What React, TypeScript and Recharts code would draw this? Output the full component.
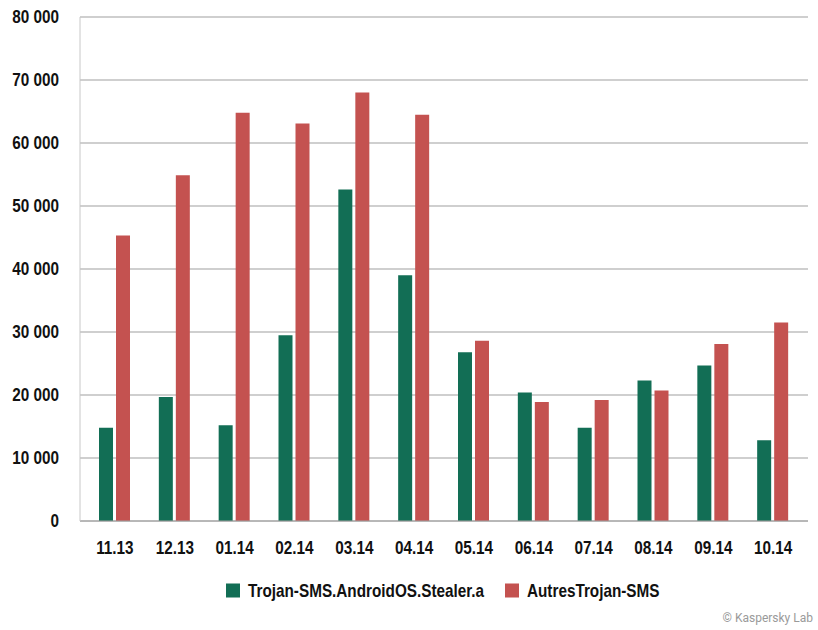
import React from "react";
import {
  BarChart,
  Bar,
  XAxis,
  YAxis,
  CartesianGrid,
  Legend,
} from "recharts";

const months = [
  "11.13",
  "12.13",
  "01.14",
  "02.14",
  "03.14",
  "04.14",
  "05.14",
  "06.14",
  "07.14",
  "08.14",
  "09.14",
  "10.14",
];
const stealer = [
  14800, 19700, 15200, 29500, 52600, 39000, 26800, 20400, 14800, 22300, 24700,
  12800,
];
const autres = [
  45300, 54900, 64800, 63100, 68000, 64500, 28600, 18900, 19200, 20700, 28100,
  31500,
];
const yTicks = [0, 10000, 20000, 30000, 40000, 50000, 60000, 70000, 80000];

// s1 / s2 keep the legend in the original order
const data = months.map((month, i) => ({
  month,
  s1: stealer[i],
  s2: autres[i],
}));

const font = "'Liberation Sans', Arial, sans-serif";
// no condensed bold font installed, so squeeze the glyphs horizontally
const squeeze = 0.85;

const formatThousands = (v: number) =>
  v === 0 ? "0" : `${Math.floor(v / 1000)} ${String(v % 1000).padStart(3, "0")}`;

const XTick = (props: any) => {
  const { x, y, payload } = props;
  return (
    <g transform={`translate(${x},${y}) scale(${squeeze},1)`}>
      <text
        textAnchor="middle"
        dy="0.72em"
        fill="#111"
        fontSize={18}
        fontWeight={700}
        fontFamily={font}
      >
        {payload.value}
      </text>
    </g>
  );
};

const YTick = (props: any) => {
  const { x, y, payload } = props;
  return (
    <g transform={`translate(${x},${y}) scale(${squeeze},1)`}>
      <text
        textAnchor="end"
        dy="0.36em"
        fill="#111"
        fontSize={18}
        fontWeight={700}
        fontFamily={font}
      >
        {formatThousands(payload.value)}
      </text>
    </g>
  );
};

const legendX = [0, 279];

const LegendContent = (props: any) => {
  const { payload = [] } = props;
  return (
    <svg width={440} height={26} style={{ display: "block" }}>
      {payload.map((entry: any, i: number) => (
        <g key={entry.value} transform={`translate(${legendX[i]},4)`}>
          <rect x={0} y={0.5} width={14} height={14} fill={entry.color} />
          <text
            transform={`translate(22,14) scale(${squeeze},1)`}
            fill="#111"
            fontSize={18}
            fontWeight={700}
            fontFamily={font}
          >
            {entry.value}
          </text>
        </g>
      ))}
    </svg>
  );
};

const App = () => {
  return (
    <div
      style={{
        position: "absolute",
        left: 0,
        top: 0,
        width: 818,
        height: 630,
        background: "#fff",
      }}
    >
      <BarChart
        width={818}
        height={630}
        data={data}
        margin={{ top: 17, right: 10, left: 0, bottom: 43 }}
        barSize={14}
        barGap={3}
      >
        <CartesianGrid vertical={false} stroke="#a0a0a0" strokeWidth={1.2} />
        <XAxis
          dataKey="month"
          padding={{ left: 5, right: 5 }}
          height={40}
          tickLine={false}
          tickSize={0}
          tickMargin={20}
          axisLine={{ stroke: "#a0a0a0" }}
          tick={<XTick />}
          interval={0}
        />
        <YAxis
          width={80}
          domain={[0, 80000]}
          ticks={yTicks}
          tickLine={false}
          tickSize={0}
          tickMargin={21}
          axisLine={{ stroke: "#c8c8c8" }}
          tick={<YTick />}
        />
        <Legend
          verticalAlign="bottom"
          align="left"
          itemSorter="dataKey"
          content={<LegendContent />}
          wrapperStyle={{ bottom: 25, left: 226, width: "auto" }}
        />
        <Bar
          dataKey="s1"
          name="Trojan-SMS.AndroidOS.Stealer.a"
          fill="#126e55"
          isAnimationActive={false}
        />
        <Bar
          dataKey="s2"
          name="AutresTrojan-SMS"
          fill="#c45250"
          isAnimationActive={false}
        />
      </BarChart>
      <div
        style={{
          position: "absolute",
          right: 5,
          top: 611,
          fontFamily: "Roboto, sans-serif",
          fontSize: 12,
          color: "#9a9a9a",
        }}
      >
        © Kaspersky Lab
      </div>
    </div>
  );
};

export default App;
